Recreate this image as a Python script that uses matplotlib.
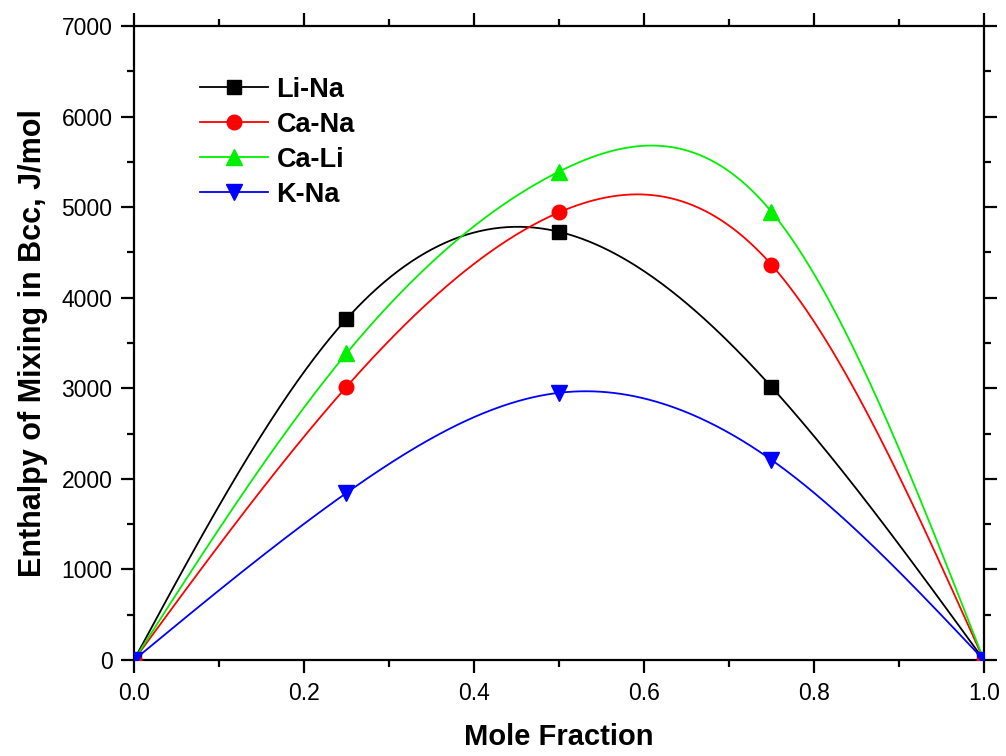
import numpy as np
import matplotlib
matplotlib.use("Agg")
import matplotlib.pyplot as plt
from matplotlib.ticker import MultipleLocator, FormatStrFormatter

plt.rcParams['font.family'] = ['Liberation Sans', 'DejaVu Sans']

mole_fraction = [0.0, 0.25, 0.5, 0.75, 1.0]
li_na = [0, 3765, 4728, 3016, 0]
ca_na = [0, 3016, 4942, 4365, 0]
ca_li = [0, 3385, 5392, 4950, 0]
k_na = [0, 1845, 2950, 2210, 0]

series = [
    ("Li-Na", li_na, "black", "s", 9.5),
    ("Ca-Na", ca_na, "#ff0000", "o", 10.5),
    ("Ca-Li", ca_li, "#00f000", "^", 11),
    ("K-Na", k_na, "#0000ff", "v", 11),
]


def natural_spline(x, y, xs):
    """Natural cubic spline through (x, y), evaluated at xs."""
    x = np.asarray(x, float)
    y = np.asarray(y, float)
    n = len(x)
    h = np.diff(x)
    A = np.zeros((n, n))
    r = np.zeros(n)
    A[0, 0] = A[-1, -1] = 1.0
    for i in range(1, n - 1):
        A[i, i - 1] = h[i - 1]
        A[i, i] = 2 * (h[i - 1] + h[i])
        A[i, i + 1] = h[i]
        r[i] = 6 * ((y[i + 1] - y[i]) / h[i] - (y[i] - y[i - 1]) / h[i - 1])
    M = np.linalg.solve(A, r)
    idx = np.clip(np.searchsorted(x, xs) - 1, 0, n - 2)
    x0, x1 = x[idx], x[idx + 1]
    hh = x1 - x0
    a, b = x1 - xs, xs - x0
    return (M[idx] * a ** 3 / (6 * hh) + M[idx + 1] * b ** 3 / (6 * hh)
            + (y[idx] / hh - M[idx] * hh / 6) * a
            + (y[idx + 1] / hh - M[idx + 1] * hh / 6) * b)


fig = plt.figure(figsize=(10.06, 7.56), dpi=100)
ax = fig.add_axes([0.1332, 0.127, 0.8448, 0.8386])

xs = np.linspace(0, 1, 500)
for name, vals, color, mk, ms in series:
    ax.plot(xs, natural_spline(mole_fraction, vals, xs), color=color,
            lw=1.3, zorder=2)
    ax.plot(mole_fraction, vals, linestyle='none', marker=mk, color=color,
            markersize=ms, zorder=3)
    ax.plot([], [], color=color, lw=1.3, marker=mk, markersize=ms,
            label=name)

ax.set_xlim(0, 1)
ax.set_ylim(0, 7000)
ax.xaxis.set_major_locator(MultipleLocator(0.2))
ax.xaxis.set_minor_locator(MultipleLocator(0.1))
ax.yaxis.set_major_locator(MultipleLocator(1000))
ax.yaxis.set_minor_locator(MultipleLocator(500))
ax.xaxis.set_major_formatter(FormatStrFormatter('%.1f'))

for s in ax.spines.values():
    s.set_linewidth(1.6)
ax.tick_params(which='both', direction='out', top=True, right=True,
               labelsize=16.5, width=1.6, pad=6)
ax.tick_params(which='major', length=9.5)
ax.tick_params(which='minor', length=5)

ax.set_xlabel("Mole Fraction", fontsize=21, fontweight='bold')
ax.xaxis.set_label_coords(0.5, -0.1)
ax.set_ylabel("Enthalpy of Mixing in Bcc, J/mol", fontsize=22,
              fontweight='bold', labelpad=10)

ax.legend(loc='upper left', bbox_to_anchor=(0.0776, 0.92), frameon=False,
          prop={'weight': 'bold', 'size': 19.5}, handlelength=2.5,
          labelspacing=0.33, handletextpad=0.33, borderaxespad=0,
          borderpad=0)

fig.savefig("out.png", dpi=100)
